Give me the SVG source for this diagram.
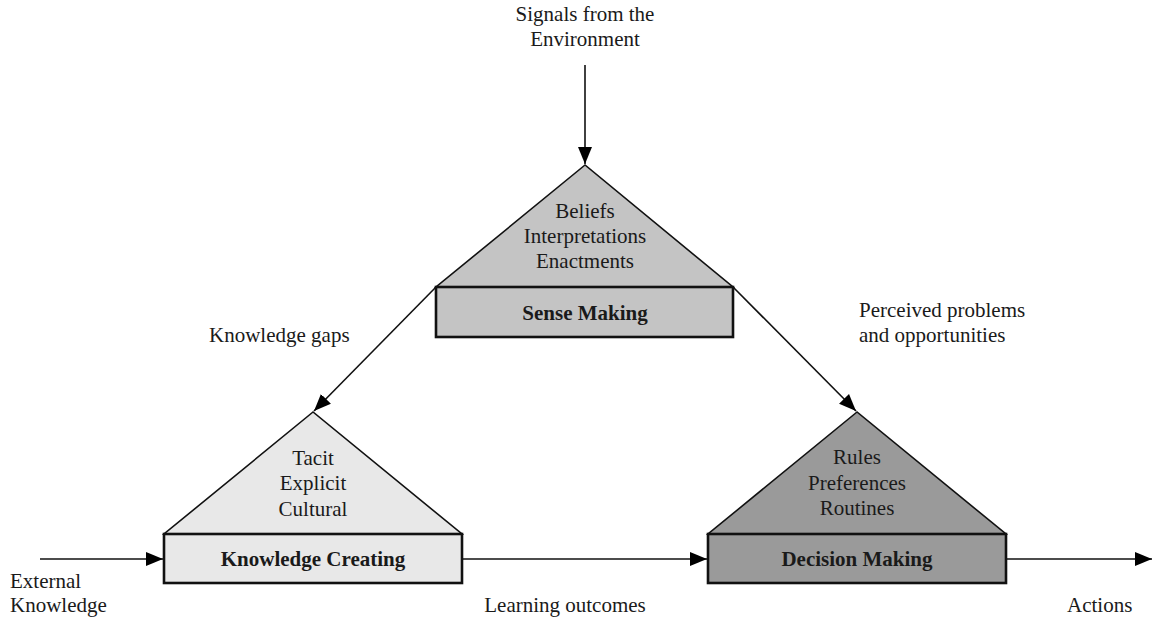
<svg xmlns="http://www.w3.org/2000/svg" width="1153" height="620" viewBox="0 0 1153 620">
<style>
.c{text-anchor:middle}
.b{font-weight:bold}
.tri{stroke:#111;stroke-width:1.6}
.box{stroke:#111;stroke-width:2.6}
.ln{stroke:#111;stroke-width:1.6;fill:none}
</style>
<defs>
<marker id="ah" markerUnits="userSpaceOnUse" markerWidth="18" markerHeight="16" refX="17" refY="8" orient="auto">
<path d="M0,1 L17,8 L0,15 Z" fill="#000"/>
</marker>
</defs>
<rect width="1153" height="620" fill="#fff"/>
<g id="connectors">
<line class="ln" x1="585" y1="65" x2="585" y2="164" marker-end="url(#ah)"/>
<line class="ln" x1="436" y1="287" x2="314" y2="411" marker-end="url(#ah)"/>
<line class="ln" x1="733" y1="287" x2="856" y2="411" marker-end="url(#ah)"/>
<line class="ln" x1="40" y1="559" x2="163" y2="559" marker-end="url(#ah)"/>
<line class="ln" x1="462" y1="559" x2="707" y2="559" marker-end="url(#ah)"/>
<line class="ln" x1="1006" y1="559" x2="1152" y2="559" marker-end="url(#ah)"/>
</g>
<g id="labels" font-family="Liberation Serif, serif" font-size="21" fill="#1a1a1a">
<text class="c" x="585" y="21">Signals from the</text>
<text class="c" x="585" y="46">Environment</text>
<text x="209" y="342">Knowledge gaps</text>
<text x="859" y="317">Perceived problems</text>
<text x="859" y="342">and opportunities</text>
<text x="10" y="588">External</text>
<text x="10" y="612">Knowledge</text>
<text class="c" x="565" y="612">Learning outcomes</text>
<text x="1067" y="612">Actions</text>
</g>
<g id="sense-making" font-family="Liberation Serif, serif" font-size="21" fill="#1a1a1a">
<polygon class="tri" points="585,165 436,287 733,287" fill="#c4c4c4"/>
<rect class="box" x="436" y="287" width="297" height="50" fill="#c4c4c4"/>
<text class="c" x="585" y="218">Beliefs</text>
<text class="c" x="585" y="243">Interpretations</text>
<text class="c" x="585" y="268">Enactments</text>
<text class="c b" x="585" y="320">Sense Making</text>
</g>
<g id="knowledge-creating" font-family="Liberation Serif, serif" font-size="21" fill="#1a1a1a">
<polygon class="tri" points="313,412 164,534 462,534" fill="#e8e8e8"/>
<rect class="box" x="164" y="534" width="298" height="49" fill="#e8e8e8"/>
<text class="c" x="313" y="465">Tacit</text>
<text class="c" x="313" y="490">Explicit</text>
<text class="c" x="313" y="516">Cultural</text>
<text class="c b" x="313" y="566">Knowledge Creating</text>
</g>
<g id="decision-making" font-family="Liberation Serif, serif" font-size="21" fill="#1a1a1a">
<polygon class="tri" points="857,412 708,534 1006,534" fill="#9a9a9a"/>
<rect class="box" x="708" y="534" width="298" height="49" fill="#9a9a9a"/>
<text class="c" x="857" y="464">Rules</text>
<text class="c" x="857" y="490">Preferences</text>
<text class="c" x="857" y="515">Routines</text>
<text class="c b" x="857" y="566">Decision Making</text>
</g>
</svg>
